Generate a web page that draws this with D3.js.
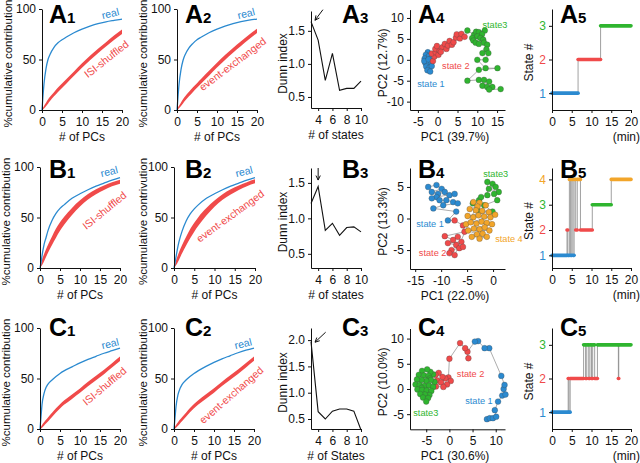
<!DOCTYPE html>
<html>
<head>
<meta charset="utf-8">
<script src="https://cdn.jsdelivr.net/npm/d3@7"></script>
<style>
body { margin: 0; background: #fff; }
svg { display: block; font-family: Arial, "Liberation Sans", Helvetica, sans-serif; }
</style>
</head>
<body>
<svg id="fig" width="640" height="463"></svg>
<script>
// cumulative contribution curves, sampled at these PCs
const pcs = [0, 0.25, 0.5, 1, 1.5, 2, 3, 4, 5, 6, 8, 10, 12, 14, 16, 18, 20];
const realA1 = [0, 14, 26, 41, 50, 55, 62, 66.5, 69.5, 72, 76.5, 80, 83, 85.5, 87.3, 88.7, 90];
const shufA1Lo = [0, 0.6, 1.6, 3.8, 6.3, 9, 13.5, 17.8, 21.8, 25.8, 33.8, 41.8, 49.3, 56.3, 62.8, 69.3, 75.3];
const shufA1Hi = [0, 2.2, 4, 7.2, 10.3, 13, 17.5, 22.2, 26.2, 30.2, 38.2, 46.2, 53.7, 60.7, 67.2, 73.7, 79.7];
const realA2 = [0, 13, 25, 40, 49, 54.5, 61.5, 66, 69.5, 72, 76.5, 80, 83, 85.5, 87.5, 89, 90];
const exchA2Lo = [0, 0.6, 1.7, 3.9, 6.4, 9.1, 13.6, 17.9, 22, 26, 34, 42, 49.6, 56.7, 63.4, 70, 76.3];
const exchA2Hi = [0, 2.3, 4.1, 7.4, 10.6, 13.4, 18, 22.5, 26.6, 30.7, 38.8, 46.8, 54.4, 61.5, 68.1, 74.5, 80.5];
const realB1 = [0, 5, 12, 23, 30, 37, 47, 54, 59, 62.5, 69, 73.5, 77.5, 81, 84, 87, 89.5];
const shufB1Lo = [0, 1.4, 2.8, 6.5, 10.8, 15, 22.8, 30, 36.8, 42.5, 52.5, 61, 67.8, 73, 77.3, 81, 83.5];
const shufB1Hi = [0, 4, 7.8, 13.5, 18.6, 23, 31.2, 39, 45.2, 50.5, 59.5, 67, 73.2, 78, 81.7, 85, 87.5];
const realB2 = [0, 5, 11, 22, 30, 36.5, 46.5, 53.5, 58.5, 62.5, 69, 73.5, 77.5, 81, 84, 87, 89.5];
const exchB2Lo = [0, 1.3, 2.7, 6.3, 10.5, 14.6, 22.3, 29.5, 36, 41.8, 52, 60.6, 67.5, 72.8, 77.2, 81, 83.8];
const exchB2Hi = [0, 3.8, 7.5, 13.2, 18.2, 22.7, 31, 38.6, 44.8, 50.3, 59.3, 66.8, 73, 77.9, 81.7, 85, 87.8];
const realC1 = [0, 12, 24, 35, 41, 44.5, 48.5, 52, 55, 57.5, 61.5, 65.5, 69, 72, 75, 77.5, 80];
const shufC1Lo = [0, 0.4, 1.2, 3.2, 5.4, 7.5, 12, 16.4, 20.4, 23.9, 29.8, 35.8, 42.3, 48.3, 54.3, 60.8, 67.3];
const shufC1Hi = [0, 2.2, 4, 6.8, 9.2, 11.5, 16, 20.6, 24.6, 28.1, 34.2, 40.2, 46.7, 52.7, 58.7, 65.2, 71.7];
const realC2 = [0, 11, 22, 34, 40, 44, 48.5, 52, 55, 57.5, 62, 66, 69.5, 72.5, 75.5, 78, 80];
const exchC2Lo = [0, 0.4, 1.2, 3.2, 5.5, 7.6, 12.2, 16.6, 20.6, 24.1, 30, 36, 42.5, 48.5, 54.5, 61, 67.5];
const exchC2Hi = [0, 2.2, 4, 6.8, 9.3, 11.6, 16.2, 20.8, 24.8, 28.3, 34.4, 40.4, 46.9, 52.9, 58.9, 65.4, 71.9];

// Dunn index vs number of states
const nStates = [3, 4, 5, 6, 7, 8, 9, 10];
const dunnA = [1.64, 1.36, 0.75, 1.16, 0.6, 0.63, 0.63, 0.74];
const dunnB = [1.21, 1.45, 0.83, 0.93, 0.76, 0.87, 0.88, 0.81];
const dunnC = [1.97, 0.64, 0.5, 0.65, 0.69, 0.69, 0.65, 0.29];

// PC1/PC2 scores per state, in time order
const a4State1 = [[-2.5,1.8],[-3.0,1.2],[-2.2,0.9],[-3.3,0.3],[-2.7,-0.2],[-1.8,0.2],[-3.1,-0.8],[-2.4,-1.0],[-1.6,-0.6],[-2.9,-1.6],[-2.1,-1.9],[-1.5,-1.5],[-2.6,-2.5],[-1.9,-2.8],[-3.4,-0.3],[-2.3,0.1]];
const a4State2 = [[-1.2,-0.3],[-0.8,0.8],[-1.5,1.5],[-0.5,1.8],[0.2,1.2],[-0.6,2.6],[0.5,2.2],[-0.2,3.3],[1.2,3.0],[0.8,1.9],[1.8,3.8],[2.2,2.6],[2.6,3.4],[3.0,4.5],[3.6,3.6],[4.0,4.2],[4.6,5.3],[5.6,5.1],[4.8,6.1],[6.0,6.2],[6.8,5.5]];
const a4State3 = [[7.5,7.0],[9.2,6.0],[9.7,6.7],[10.4,6.6],[11.9,7.0],[11.2,6.1],[10.0,5.6],[10.8,5.2],[8.7,5.2],[9.0,4.6],[9.6,4.1],[10.4,3.8],[11.5,4.8],[11.7,4.1],[12.5,3.6],[12.3,2.5],[11.3,1.6],[12.8,1.6],[12.1,0.0],[10.0,0.0],[12.1,-2.0],[15.1,-2.0],[10.4,-2.4],[7.5,-5.0],[10.4,-4.8],[11.7,-4.8],[13.0,-5.2],[11.3,-6.2],[12.5,-6.5],[13.8,-6.5],[13.0,-7.1],[15.9,-7.0]];

const b4State1 = [[-12.5,5.0],[-10.9,5.3],[-9.9,4.7],[-11.8,4.2],[-10.6,3.9],[-9.3,4.2],[-8.4,3.7],[-7.4,3.9],[-10.9,3.4],[-11.8,3.2],[-10.3,2.9],[-9.0,2.9],[-7.7,2.6],[-6.8,2.4],[-9.6,2.1],[-11.5,1.6],[-7.1,1.1],[-8.7,-0.3]];
const b4State2 = [[-7.4,-0.3],[-5.8,-1.1],[-5.5,-2.1],[-9.3,-2.8],[-7.7,-3.4],[-6.8,-2.9],[-6.1,-3.7],[-8.7,-3.9],[-7.1,-4.2],[-6.5,-4.7],[-5.8,-4.5],[-8.0,-5.0],[-8.4,-5.5],[-7.4,-5.8]];
const b4State3 = [[-2.7,2.9],[-2.3,3.4],[-1.1,3.7],[-1.1,5.8],[-0.1,5.5],[0.5,5.0],[-0.8,4.7],[1.1,4.2],[0.2,3.9],[0.8,2.9],[-1.7,2.1],[-0.1,1.1],[-3.0,1.3],[-3.9,2.4]];
const b4State4 = [[-3.8,2.6],[-2.6,2.5],[-1.4,2.1],[-3.0,1.9],[-4.5,1.5],[-3.3,1.3],[-2.1,1.2],[-0.8,1.0],[-4.9,0.4],[-3.8,0.2],[-2.8,0.5],[-1.7,0.3],[-0.5,0.2],[0.4,0.6],[-5.2,-0.9],[-4.3,-0.6],[-3.2,-0.8],[-2.2,-0.5],[-1.2,-0.7],[-0.2,-0.9],[-3.7,-1.6],[-2.6,-1.7],[-1.6,-1.4],[-0.7,-1.9],[-4.8,-1.9],[-3.1,-2.5],[-2.0,-2.4],[-4.1,-2.9],[-1.2,-2.9],[-2.6,-3.2]];

const c4State1 = [[8.1,-6.0],[8.7,-5.8],[9.4,-5.8],[10.1,-5.5],[9.8,-4.2],[10.5,-2.5],[11.4,-1.3],[12.1,-1.1],[11.7,0.0],[11.9,0.8],[11.2,2.6],[8.6,8.1],[7.6,8.1],[6.2,9.5],[5.5,9.4]];
const c4State2 = [[3.9,7.4],[4.1,6.1],[3.4,8.1],[2.3,9.1],[0.0,6.0],[-0.2,2.3],[0.3,1.6],[-0.9,2.1],[-1.5,2.4],[-2.3,3.2],[-3.0,2.8],[-2.6,1.7],[-1.8,1.3],[-0.5,0.9],[-1.3,0.4],[-2.9,0.5]];
const c4State3 = [[-3.5,2.9],[-4.1,3.4],[-4.8,3.9],[-5.9,3.6],[-6.6,2.8],[-5.5,2.7],[-4.5,2.6],[-4.2,2.1],[-3.2,1.4],[-4.0,1.8],[-5.0,1.6],[-6.0,1.8],[-7.0,1.9],[-7.3,0.9],[-6.4,0.8],[-5.4,0.6],[-4.4,0.7],[-3.5,0.4],[-6.0,0.2],[-6.9,-0.1],[-5.9,-0.2],[-4.9,-0.3],[-3.9,-0.4],[-4.3,-1.2],[-5.3,-1.1],[-6.3,-1.0],[-5.7,-1.7],[-4.6,-1.8],[-5.0,-2.5]];

// state sequences: [start min, end min, state]
const a5Runs = [[0,6.6,1],[6.6,12.3,2],[12.3,20,3]];
const b5Runs = [[0,3.8,1],[3.8,4.0,2],[4.0,4.4,1],[4.4,4.7,4],[4.7,5.0,1],[5.0,5.3,4],[5.3,5.6,1],[5.6,6.0,4],[6.0,6.4,2],[6.4,7.2,4],[7.2,10.2,2],[10.2,15.0,3],[15.0,20,4]];
const c5Runs = [[0,4.1,1],[4.1,4.3,2],[4.3,4.6,1],[4.6,8.0,2],[8.0,8.5,3],[8.5,8.8,2],[8.8,9.3,3],[9.3,9.6,2],[9.6,10.0,3],[10.0,10.3,2],[10.3,10.8,3],[10.8,11.5,2],[11.5,16.8,3],[16.8,16.9,2],[16.9,20,3]];

const blue = "#2b8ad0", red = "#f04a4a", green = "#2fb52f", orange = "#f2a52a";
const stateColor = {1: blue, 2: red, 3: green, 4: orange};

const svg = d3.select("#fig");

function axes(x, y, xt, yt, yfmt, ytickColor) {
  let ax = svg.append("g").attr("transform", `translate(0,${y.range()[0]})`)
    .call(d3.axisBottom(x).tickValues(xt).tickSize(3).tickPadding(4).tickSizeOuter(0).tickFormat(d => d));
  let ay = svg.append("g").attr("transform", `translate(${x.range()[0]},0)`)
    .call(d3.axisLeft(y).tickValues(yt).tickSize(3).tickPadding(3).tickSizeOuter(0).tickFormat(yfmt || (d => d)));
  [ax, ay].forEach(a => {
    a.attr("font-family", null).attr("font-size", null);
    a.select(".domain").attr("stroke", "#111");
    a.selectAll(".tick line").attr("stroke", "#111");
    a.selectAll("text").attr("font-size", 12).attr("fill", "#111");
  });
  if (ytickColor) ay.selectAll("text").attr("fill", d => ytickColor[d]);
}

function ylabel(px, py, txt, size) {
  svg.append("text").attr("transform", `translate(${px},${py}) rotate(-90)`)
    .attr("text-anchor", "middle").attr("font-size", size || 12).attr("fill", "#111").text(txt);
}

function xlabel(px, py, txt, anchor) {
  svg.append("text").attr("x", px).attr("y", py).attr("text-anchor", anchor || "middle")
    .attr("font-size", 12).attr("fill", "#111").text(txt);
}

function plabel(px, py, L, n) {
  let t = svg.append("text").attr("x", px).attr("y", py)
    .attr("font-weight", "bold").attr("font-size", 25).attr("fill", "#000");
  t.append("tspan").text(L);
  t.append("tspan").attr("font-size", 15).text(n);
}

function note(x, y, pos, txt, color, size, angle, anchor, dy) {
  svg.append("text")
    .attr("transform", `translate(${x(pos[0])},${y(pos[1])}) rotate(${angle || 0})`)
    .attr("dy", dy || 0)
    .attr("text-anchor", anchor || "middle").attr("font-size", size).attr("fill", color).text(txt);
}

function cumPanel(x0, x1, yb, yt, real, lo, hi, shufName, realPos, shufPos, shufAngle, yText, ylx) {
  let x = d3.scaleLinear().domain([0, 20]).range([x0, x1]);
  let y = d3.scaleLinear().domain([0, 100]).range([yb, yt]);
  let rows = pcs.map((p, i) => ({p, real: real[i], lo: lo[i], hi: hi[i]}));
  svg.append("path").datum(rows)
    .attr("d", d3.area().x(d => x(d.p)).y0(d => y(d.lo)).y1(d => y(d.hi)).curve(d3.curveMonotoneX))
    .attr("fill", red);
  svg.append("path").datum(rows)
    .attr("d", d3.line().x(d => x(d.p)).y(d => y(d.real)).curve(d3.curveMonotoneX))
    .attr("fill", "none").attr("stroke", blue).attr("stroke-width", 1.3);
  axes(x, y, [0, 5, 10, 15, 20], [0, 50, 100]);
  note(x, y, realPos, "real", blue, 10.5, -14);
  note(x, y, shufPos, shufName, red, 10.5, shufAngle, "middle", "0.6em");
  ylabel(ylx, (yb + yt) / 2 + 4, yText, 11.5);
  xlabel((x0 + x1) / 2, yb + 31, "# of PCs");
}

function dunnPanel(yb, yt, ydom, yticks, vals, arrow, xText) {
  let x = d3.scaleLinear().domain([3, 10]).range([311, 361]);
  let y = d3.scaleLinear().domain(ydom).range([yb, yt]);
  svg.append("path").datum(nStates.map((s, i) => [s, vals[i]]))
    .attr("d", d3.line().x(d => x(d[0])).y(d => y(d[1])))
    .attr("fill", "none").attr("stroke", "#111").attr("stroke-width", 1.1);
  axes(x, y, [4, 6, 8, 10], yticks, d3.format(".1f"));
  // arrow: [tailX, tailY, tipX, tipY] in data units
  let tx = x(arrow[0]), ty = y(arrow[1]), hx = x(arrow[2]), hy = y(arrow[3]);
  let a = Math.atan2(hy - ty, hx - tx), L = 5;
  svg.append("path")
    .attr("d", `M${tx},${ty}L${hx},${hy}M${hx - L * Math.cos(a - 0.45)},${hy - L * Math.sin(a - 0.45)}L${hx},${hy}L${hx - L * Math.cos(a + 0.45)},${hy - L * Math.sin(a + 0.45)}`)
    .attr("fill", "none").attr("stroke", "#111").attr("stroke-width", 1);
  ylabel(287, (yb + yt) / 2 + 4, "Dunn index");
  xlabel(336, yb + 31, xText);
}

function scatterPanel(yb, yt, xdom, ydom, xticks, yticks, groups, labels, xText, yText) {
  let x = d3.scaleLinear().domain(xdom).range([410, 505]);
  let y = d3.scaleLinear().domain(ydom).range([yb, yt]);
  let traj = groups.flatMap(g => g.pts);
  svg.append("path").datum(traj)
    .attr("d", d3.line().x(d => x(d[0])).y(d => y(d[1])))
    .attr("fill", "none").attr("stroke", "#8a8a8a").attr("stroke-width", 0.7);
  groups.forEach(g => {
    svg.append("g").selectAll("circle").data(g.pts).join("circle")
      .attr("cx", d => x(d[0])).attr("cy", d => y(d[1])).attr("r", 2.9)
      .attr("fill", g.color).attr("stroke", "#444").attr("stroke-opacity", 0.6).attr("stroke-width", 0.5);
  });
  axes(x, y, xticks, yticks);
  labels.forEach(l => note(x, y, l.pos, l.text, l.color, 9.2, 0, "start"));
  ylabel(387, (yb + yt) / 2 + 3, yText);
  xlabel(455, yb + 31, xText);
}

function statePanel(yb, yt, ymax, runs) {
  let x = d3.scaleLinear().domain([0, 20]).range([552, 631]);
  let y = d3.scaleLinear().domain([0.5, ymax]).range([yb, yt]);
  let g = svg.append("g");
  runs.slice(1).forEach((r, i) => {
    g.append("line").attr("x1", x(r[0])).attr("x2", x(r[0]))
      .attr("y1", y(runs[i][2])).attr("y2", y(r[2]))
      .attr("stroke", "#888").attr("stroke-width", 0.8);
  });
  g.selectAll(".run").data(runs).join("line").attr("class", "run")
    .attr("x1", d => x(d[0])).attr("x2", d => x(d[1]))
    .attr("y1", d => y(d[2])).attr("y2", d => y(d[2]))
    .attr("stroke", d => stateColor[d[2]]).attr("stroke-width", 3.6).attr("stroke-linecap", "round");
  let st = d3.range(1, Math.floor(ymax) + 1);
  axes(x, y, [0, 5, 10, 15, 20], st, null, stateColor);
  ylabel(533, (yb + yt) / 2 + 3, "State #");
  xlabel(640, yb + 31, "(min)", "end");
}

// row A
cumPanel(42, 122, 110, 9, realA1, shufA1Lo, shufA1Hi, "ISI-shuffled", [17.3, 92], [15.7, 52.5], -38, "%cumulative contribution", 12);
cumPanel(177, 257, 110, 9, realA2, exchA2Lo, exchA2Hi, "event-exchanged", [17.5, 92], [13.5, 47.5], -37, "%cumulative contribution", 147);
dunnPanel(108, 11, [0.333, 1.8], [0.5, 1.0, 1.5], dunnA, [4.67, 1.82, 3.56, 1.66], "# of states");
scatterPanel(110, 9.6, [-7, 17], [-12, 12], [-5, 0, 5, 10, 15], [-10, -5, 0, 5, 10],
  [{pts: a4State1, color: blue}, {pts: a4State2, color: red}, {pts: a4State3, color: green}],
  [{pos: [11.3, 7.6], text: "state3", color: green}, {pos: [1.1, -2.1], text: "state 2", color: red}, {pos: [-5.2, -6.4], text: "state 1", color: blue}],
  "PC1 (39.7%)", "PC2 (12.7%)");
statePanel(110, 9, 3.5, a5Runs);

// row B
cumPanel(40, 120, 268, 167, realB1, shufB1Lo, shufB1Hi, "ISI-shuffled", [17.5, 92], [15.7, 59], -39, "%cumulative contribution", 10);
cumPanel(174, 255, 268, 167, realB2, exchB2Lo, exchB2Hi, "event-exchanged", [17.5, 92], [13.5, 53.5], -36, "%cumulative contrivution", 147);
dunnPanel(268, 168, [0.3, 1.71], [0.5, 1.0, 1.5], dunnB, [4, 1.71, 4, 1.54], "# of states");
scatterPanel(269, 168, [-16, 2.3], [-8, 8], [-15, -10, -5, 0], [-5, 0, 5],
  [{pts: b4State1, color: blue}, {pts: b4State2, color: red}, {pts: b4State3, color: green}, {pts: b4State4, color: orange}],
  [{pos: [-1.9, 6.5], text: "state3", color: green}, {pos: [-14.8, -1.4], text: "state 1", color: blue},
   {pos: [-14.3, -6.0], text: "state 2", color: red}, {pos: [0.4, -3.7], text: "state 4", color: orange}],
  "PC1 (22.0%)", "PC2 (13.3%)");
statePanel(268, 168, 4.45, b5Runs);

// row C
cumPanel(40, 120, 429, 328, realC1, shufC1Lo, shufC1Hi, "ISI-shuffled", [17.75, 81], [15.7, 44.5], -40, "%cumulative contribution", 10);
cumPanel(174, 254, 429, 328, realC2, exchC2Lo, exchC2Hi, "event-exchanged", [17.5, 81], [13.9, 35.6], -41, "%cumulative contribution", 147);
dunnPanel(429, 328, [0.31, 2.23], [0.5, 1.0, 1.5, 2.0], dunnC, [5.05, 2.15, 3.56, 1.96], "# of States");
scatterPanel(429.3, 328.5, [-8.5, 12], [-8, 12], [-5, 0, 5, 10], [-5, 0, 5, 10],
  [{pts: c4State1, color: blue}, {pts: c4State2, color: red}, {pts: c4State3, color: green}],
  [{pos: [1.6, 2.4], text: "state 2", color: red}, {pos: [3.4, -3.0], text: "state 1", color: blue}, {pos: [-7.8, -5.4], text: "state3", color: green}],
  "PC1 (30.6%)", "PC2 (10.0%)");
statePanel(429, 328, 3.5, c5Runs);

// panel letters
const letterX = [49, 185, 342, 418, 560];
[["A", 23], ["B", 178], ["C", 336]].forEach(([L, py]) => {
  letterX.forEach((px, i) => plabel(px, py, L, i + 1));
});
</script>
</body>
</html>
